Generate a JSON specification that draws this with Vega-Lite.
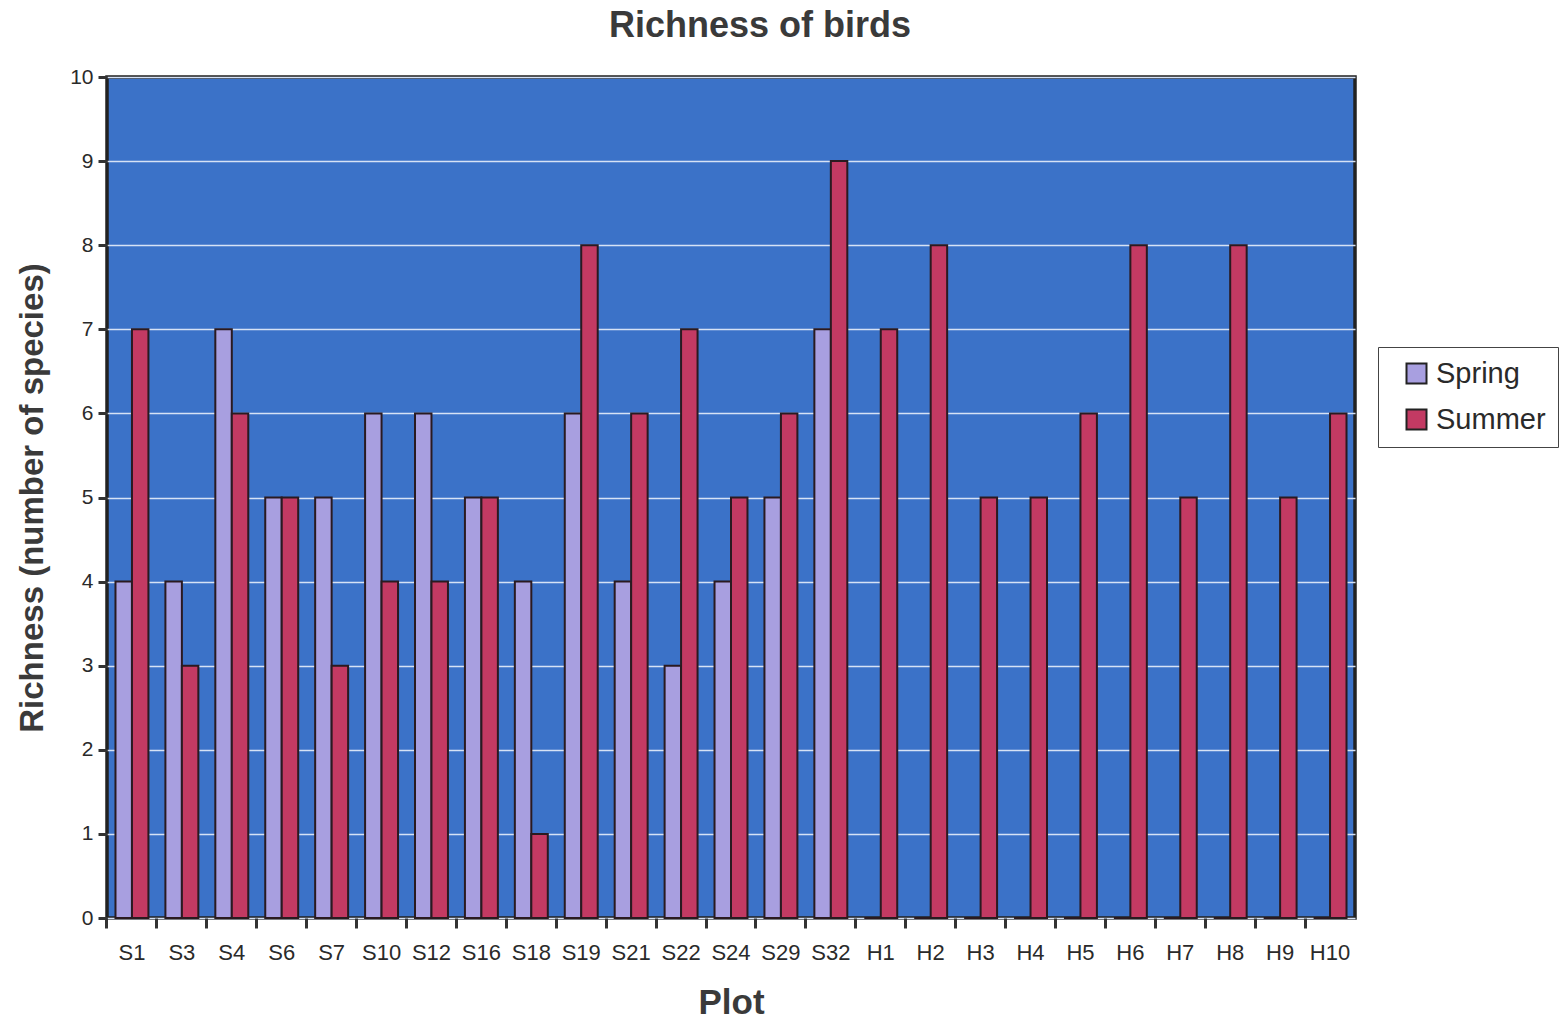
{
  "$schema": "https://vega.github.io/schema/vega-lite/v6.json",
  "autosize": {"type": "none"},
  "padding": {"left": 107, "top": 77, "right": 208, "bottom": 102},
  "width": 1248,
  "height": 841,
  "background": "#ffffff",
  "config": {
    "font": "Liberation Sans",
    "view": {"fill": "#3b72c8", "stroke": "#222222", "strokeWidth": 3.5}
  },
  "title": {
    "text": "Richness of birds",
    "fontSize": 36,
    "fontWeight": "bold",
    "color": "#3a3a3a",
    "anchor": "middle",
    "dx": 29,
    "offset": 21
  },
  "data": {
    "values": [
      {"plot": "S1", "season": "Spring", "richness": 4}, {"plot": "S1", "season": "Summer", "richness": 7},
      {"plot": "S3", "season": "Spring", "richness": 4}, {"plot": "S3", "season": "Summer", "richness": 3},
      {"plot": "S4", "season": "Spring", "richness": 7}, {"plot": "S4", "season": "Summer", "richness": 6},
      {"plot": "S6", "season": "Spring", "richness": 5}, {"plot": "S6", "season": "Summer", "richness": 5},
      {"plot": "S7", "season": "Spring", "richness": 5}, {"plot": "S7", "season": "Summer", "richness": 3},
      {"plot": "S10", "season": "Spring", "richness": 6}, {"plot": "S10", "season": "Summer", "richness": 4},
      {"plot": "S12", "season": "Spring", "richness": 6}, {"plot": "S12", "season": "Summer", "richness": 4},
      {"plot": "S16", "season": "Spring", "richness": 5}, {"plot": "S16", "season": "Summer", "richness": 5},
      {"plot": "S18", "season": "Spring", "richness": 4}, {"plot": "S18", "season": "Summer", "richness": 1},
      {"plot": "S19", "season": "Spring", "richness": 6}, {"plot": "S19", "season": "Summer", "richness": 8},
      {"plot": "S21", "season": "Spring", "richness": 4}, {"plot": "S21", "season": "Summer", "richness": 6},
      {"plot": "S22", "season": "Spring", "richness": 3}, {"plot": "S22", "season": "Summer", "richness": 7},
      {"plot": "S24", "season": "Spring", "richness": 4}, {"plot": "S24", "season": "Summer", "richness": 5},
      {"plot": "S29", "season": "Spring", "richness": 5}, {"plot": "S29", "season": "Summer", "richness": 6},
      {"plot": "S32", "season": "Spring", "richness": 7}, {"plot": "S32", "season": "Summer", "richness": 9},
      {"plot": "H1", "season": "Spring", "richness": 0}, {"plot": "H1", "season": "Summer", "richness": 7},
      {"plot": "H2", "season": "Spring", "richness": 0}, {"plot": "H2", "season": "Summer", "richness": 8},
      {"plot": "H3", "season": "Spring", "richness": 0}, {"plot": "H3", "season": "Summer", "richness": 5},
      {"plot": "H4", "season": "Spring", "richness": 0}, {"plot": "H4", "season": "Summer", "richness": 5},
      {"plot": "H5", "season": "Spring", "richness": 0}, {"plot": "H5", "season": "Summer", "richness": 6},
      {"plot": "H6", "season": "Spring", "richness": 0}, {"plot": "H6", "season": "Summer", "richness": 8},
      {"plot": "H7", "season": "Spring", "richness": 0}, {"plot": "H7", "season": "Summer", "richness": 5},
      {"plot": "H8", "season": "Spring", "richness": 0}, {"plot": "H8", "season": "Summer", "richness": 8},
      {"plot": "H9", "season": "Spring", "richness": 0}, {"plot": "H9", "season": "Summer", "richness": 5},
      {"plot": "H10", "season": "Spring", "richness": 0}, {"plot": "H10", "season": "Summer", "richness": 6}
    ]
  },
  "mark": {"type": "bar", "stroke": "#2a1a20", "strokeWidth": 2},
  "encoding": {
    "x": {
      "field": "plot",
      "type": "nominal",
      "sort": null,
      "scale": {"paddingInner": 0.34, "paddingOuter": 0.17},
      "axis": {
        "title": "Plot",
        "titleFontSize": 35,
        "titleFontWeight": "bold",
        "titleColor": "#3a3a3a",
        "titlePadding": 22,
        "labelAngle": 0,
        "labelFontSize": 22,
        "labelColor": "#2a2a2a",
        "labelPadding": 14,
        "bandPosition": -0.258,
        "labelOffset": 0,
        "tickSize": 10,
        "tickWidth": 3,
        "tickColor": "#333333",
        "domain": false,
        "grid": false
      }
    },
    "xOffset": {"field": "season", "type": "nominal", "scale": {"paddingInner": 0}},
    "y": {
      "field": "richness",
      "type": "quantitative",
      "scale": {"domain": [0, 10], "nice": false},
      "axis": {
        "title": "Richness (number of species)",
        "titleFontSize": 33,
        "titleFontWeight": "bold",
        "titleColor": "#3a3a3a",
        "titlePadding": 20,
        "values": [0, 1, 2, 3, 4, 5, 6, 7, 8, 9, 10],
        "labelFontSize": 21,
        "labelColor": "#2a2a2a",
        "labelPadding": 5,
        "tickSize": 9,
        "tickWidth": 3,
        "tickColor": "#333333",
        "domain": false,
        "grid": true,
        "gridColor": "#d6e2f5",
        "gridWidth": 1.5
      }
    },
    "color": {
      "field": "season",
      "type": "nominal",
      "scale": {"domain": ["Spring", "Summer"], "range": ["#a89fe0", "#c33a63"]},
      "legend": {
        "title": null,
        "orient": "none",
        "legendX": 1271,
        "legendY": 270,
        "labelFontSize": 29,
        "labelColor": "#2a2a2a",
        "symbolType": "square",
        "symbolSize": 400,
        "symbolStrokeColor": "#222222",
        "symbolStrokeWidth": 2,
        "symbolOffset": 12,
        "rowPadding": 16,
        "padding": 12,
        "strokeColor": "#444444",
        "fillColor": "#ffffff",
        "labelOffset": 5,
        "labelLimit": 200
      }
    }
  }
}
